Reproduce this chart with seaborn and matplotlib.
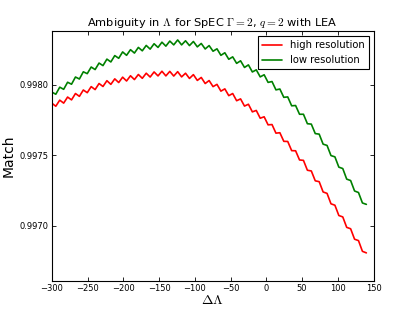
import numpy as np
import pandas as pd
import matplotlib
matplotlib.use("Agg")
import matplotlib.pyplot as plt
import seaborn as sns
from matplotlib.ticker import FormatStrFormatter

# delta Lambda grid (every 5.5 units, -300 .. 140)
delta_lambda = np.arange(-300, 140.01, 5.5)

# match values (offset from 0.997, in units of 1e-6)
high_res = [869, 848, 891, 870, 913, 893, 938, 918, 963, 944,
            987, 966, 1009, 988, 1029, 1003, 1042, 1016, 1054, 1027,
            1064, 1037, 1073, 1046, 1082, 1055, 1091, 1063, 1096, 1063,
            1095, 1062, 1093, 1056, 1082, 1045, 1072, 1031, 1052, 1009,
            1030, 987, 1003, 955, 971, 923, 938, 887, 900, 849,
            862, 808, 818, 763, 773, 716, 718, 657, 660, 599,
            598, 533, 532, 467, 464, 394, 389, 319, 313, 240,
            230, 156, 146, 73, 63, -11, -21, -95, -105, -181,
            -192]
low_res = [948, 933, 983, 968, 1018, 1004, 1055, 1041, 1092, 1079,
           1126, 1108, 1154, 1136, 1182, 1162, 1207, 1188, 1233, 1209,
           1249, 1225, 1265, 1241, 1279, 1253, 1291, 1265, 1302, 1274,
           1310, 1283, 1318, 1283, 1312, 1278, 1307, 1269, 1293, 1254,
           1278, 1238, 1255, 1209, 1227, 1181, 1198, 1152, 1170, 1123,
           1141, 1091, 1106, 1056, 1071, 1017, 1023, 964, 970, 911,
           914, 851, 853, 791, 791, 724, 721, 654, 650, 579,
           570, 498, 489, 416, 406, 331, 321, 247, 236, 162,
           152]

labels = ["high resolution", "low resolution"]
colors = {"high resolution": "red", "low resolution": "green"}

df = pd.concat([
    pd.DataFrame({"dL": delta_lambda, "match": 0.997 + np.array(high_res) * 1e-6,
                  "res": labels[0]}),
    pd.DataFrame({"dL": delta_lambda, "match": 0.997 + np.array(low_res) * 1e-6,
                  "res": labels[1]}),
])

sns.set_style("white")
plt.rcParams["mathtext.fontset"] = "cm"
plt.rcParams["font.family"] = ["DejaVu Sans"]
plt.rcParams["text.color"] = "black"
plt.rcParams["axes.labelcolor"] = "black"

fig = plt.figure(figsize=(4.15, 3.12), dpi=100)
fig.subplots_adjust(left=0.125, right=0.9, bottom=0.1, top=0.9)
ax = fig.add_subplot(111)

sns.lineplot(data=df, x="dL", y="match", hue="res", palette=colors,
             linewidth=1.2, ax=ax)

ax.set_xlim(-300, 150)
ax.set_ylim(0.99661, 0.99838)
ax.set_xticks(np.arange(-300, 151, 50))
ax.set_yticks([0.9970, 0.9975, 0.9980])
ax.yaxis.set_major_formatter(FormatStrFormatter("%.4f"))

ax.tick_params(direction="in", length=3, width=0.6, labelsize=6,
               top=True, right=True, bottom=True, left=True, pad=2.5,
               colors="black")
for s in ax.spines.values():
    s.set_color("black")
    s.set_linewidth(0.8)

ax.set_title(r"Ambiguity in $\Lambda$ for SpEC $\Gamma=2$, $q=2$ with LEA",
             fontsize=8.2, pad=3.5, color="black")
ax.set_xlabel(r"$\Delta\Lambda$", fontsize=10, labelpad=0)
ax.set_ylabel("Match", fontsize=10, labelpad=3)

leg = ax.legend(loc="upper right", fontsize=7.2, fancybox=False,
                handlelength=2.0, borderaxespad=0.5, framealpha=1)
leg.get_frame().set_edgecolor("black")
leg.get_frame().set_linewidth(0.8)
for t in leg.get_texts():
    t.set_color("black")

fig.savefig("out.png", dpi=100)
